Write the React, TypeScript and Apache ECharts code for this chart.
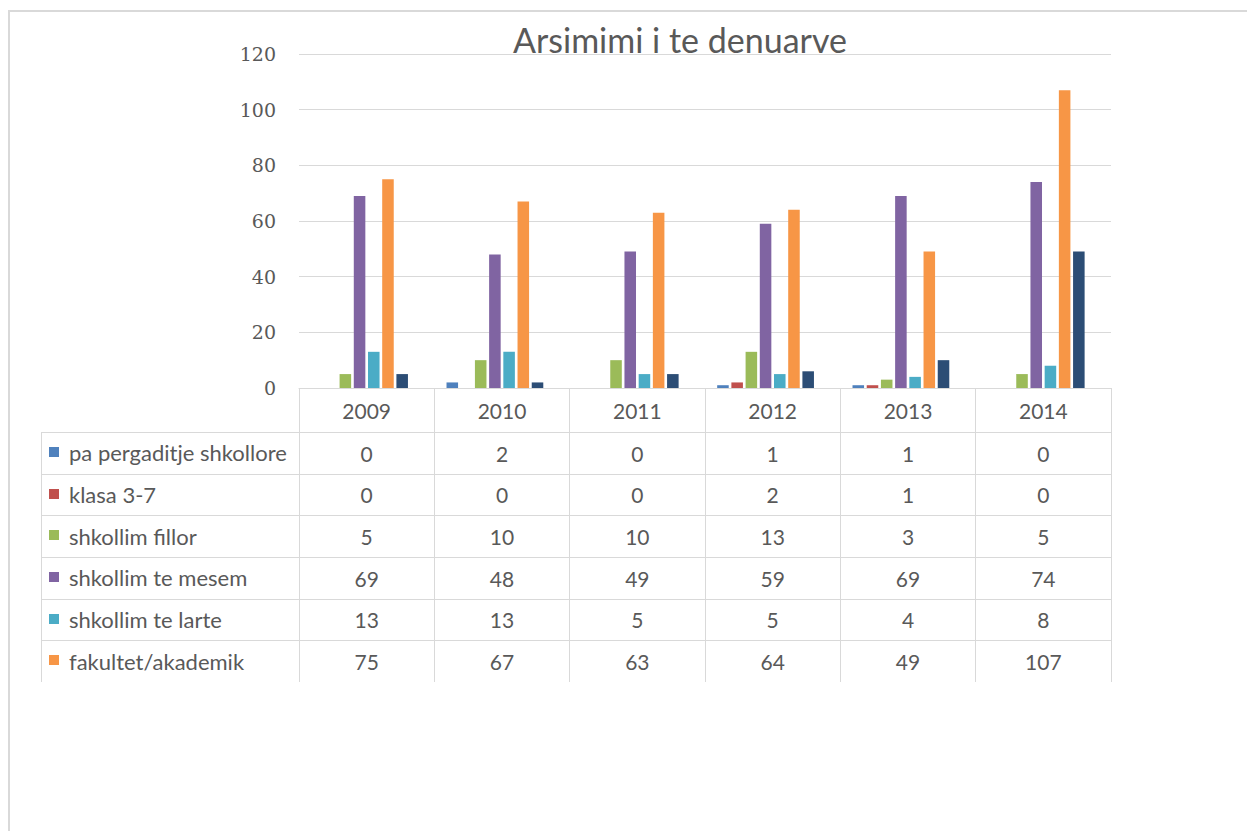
import React, { useEffect, useRef } from "react";
import * as echarts from "echarts";

const years = ["2009", "2010", "2011", "2012", "2013", "2014"];
const seriesNames = [
  "pa pergaditje shkollore",
  "klasa 3-7",
  "shkollim fillor",
  "shkollim te mesem",
  "shkollim te larte",
  "fakultet/akademik",
  "tjeter",
  "pa te dhena",
];
const colors = ["#4F81BD", "#C0504D", "#9BBB59", "#8064A2", "#4BACC6", "#F79646", "#2C4D75", "#772C2A"];
const paPergaditje = [0, 2, 0, 1, 1, 0];
const klasa37 = [0, 0, 0, 2, 1, 0];
const fillor = [5, 10, 10, 13, 3, 5];
const mesem = [69, 48, 49, 59, 69, 74];
const larte = [13, 13, 5, 5, 4, 8];
const fakultet = [75, 67, 63, 64, 49, 107];
const tjeter = [5, 2, 5, 6, 10, 49];
const paTeDhena = [0, 0, 0, 0, 0, 0];
const seriesValues = [paPergaditje, klasa37, fillor, mesem, larte, fakultet, tjeter, paTeDhena];
const tableRows = 6; // rows shown in the data table
const yTicks = { min: 0, max: 120, interval: 20 };

const W = 1247;
const H = 831;
const GRID_L = 299;
const GRID_R = 1111;
const GRID_T = 54;
const AXIS_Y = 388;
const HEADER_H = 44;
const ROW_H = 41.67;
const TABLE_L = 41;
const TEXT = "#595959";
const LINE = "#d9d9d9";
const SANS = "Lato, 'Noto Sans', sans-serif";

export default function App() {
  const ref = useRef<HTMLDivElement>(null);
  useEffect(() => {
    if (!ref.current) return;
    const chart = echarts.init(ref.current, undefined, { renderer: "svg" });
    const tableTop = AXIS_Y + HEADER_H;
    const tableBottom = tableTop + ROW_H * tableRows;

    const graphics: any[] = [];
    graphics.push({
      type: "rect",
      shape: { x: 9, y: 11, width: W + 20, height: H + 20 },
      style: { fill: "none", stroke: LINE, lineWidth: 2 },
      silent: true,
    });
    graphics.push({
      type: "text",
      x: 680,
      y: 39,
      style: {
        text: "Arsimimi i te denuarve",
        fill: TEXT,
        font: `34px ${SANS}`,
        textAlign: "center",
        textVerticalAlign: "middle",
      },
    });
    for (let i = 0; i < tableRows; i++) {
      const y = Math.round(tableTop + ROW_H * i) + 0.5;
      graphics.push({
        type: "line",
        shape: { x1: TABLE_L, y1: y, x2: GRID_R, y2: y },
        style: { stroke: LINE, lineWidth: 1 },
        silent: true,
      });
      const cy = tableTop + ROW_H * i + ROW_H / 2;
      graphics.push({
        type: "rect",
        shape: { x: 49, y: Math.round(cy - 6), width: 10, height: 10 },
        style: { fill: colors[i] },
        silent: true,
      });
      graphics.push({
        type: "text",
        x: 69,
        y: cy,
        style: {
          text: seriesNames[i],
          fill: TEXT,
          font: `22px ${SANS}`,
          textAlign: "left",
          textVerticalAlign: "middle",
        },
      });
    }
    graphics.push({
      type: "line",
      shape: { x1: TABLE_L + 0.5, y1: tableTop, x2: TABLE_L + 0.5, y2: tableBottom },
      style: { stroke: LINE, lineWidth: 1 },
      silent: true,
    });

    const tableAxes = Array.from({ length: tableRows }, (_, i) => ({
      type: "category",
      gridIndex: 0,
      position: "bottom",
      offset: HEADER_H + ROW_H * i,
      data: seriesValues[i].map((v) => String(v)),
      axisLine: { show: false },
      axisTick: { show: false },
      splitLine: { show: false },
      axisLabel: {
        interval: 0,
        color: TEXT,
        fontFamily: SANS,
        fontSize: 21,
        lineHeight: 24,
        margin: 9,
      },
    }));

    chart.setOption({
      animation: false,
      backgroundColor: "#ffffff",
      grid: { left: GRID_L, right: W - GRID_R, top: GRID_T, bottom: H - AXIS_Y, containLabel: false },
      xAxis: [
        {
          type: "category",
          data: years,
          axisLine: { show: true, lineStyle: { color: LINE, width: 1 } },
          axisTick: {
            show: true,
            interval: 0,
            length: HEADER_H + ROW_H * tableRows,
            lineStyle: { color: LINE, width: 1 },
          },
          axisLabel: {
            interval: 0,
            color: TEXT,
            fontFamily: SANS,
            fontSize: 21,
            lineHeight: 24,
            margin: 10,
          },
        },
        ...tableAxes,
      ],
      yAxis: {
        type: "value",
        min: yTicks.min,
        max: yTicks.max,
        interval: yTicks.interval,
        axisLine: { show: false },
        axisTick: { show: false },
        splitLine: { lineStyle: { color: LINE, width: 1 } },
        axisLabel: {
          color: TEXT,
          fontFamily: "'DejaVu Serif', serif",
          fontSize: 19,
          margin: 23,
        },
      },
      series: seriesNames.map((name, i) => ({
        name,
        type: "bar",
        xAxisIndex: 0,
        data: seriesValues[i],
        barGap: "23%",
        barCategoryGap: "18%",
        itemStyle: { color: colors[i] },
      })),
      graphic: graphics,
    });
    return () => chart.dispose();
  }, []);
  return (
    <div
      ref={ref}
      style={{ position: "fixed", left: 0, top: 0, width: W, height: H, background: "#fff" }}
    />
  );
}
